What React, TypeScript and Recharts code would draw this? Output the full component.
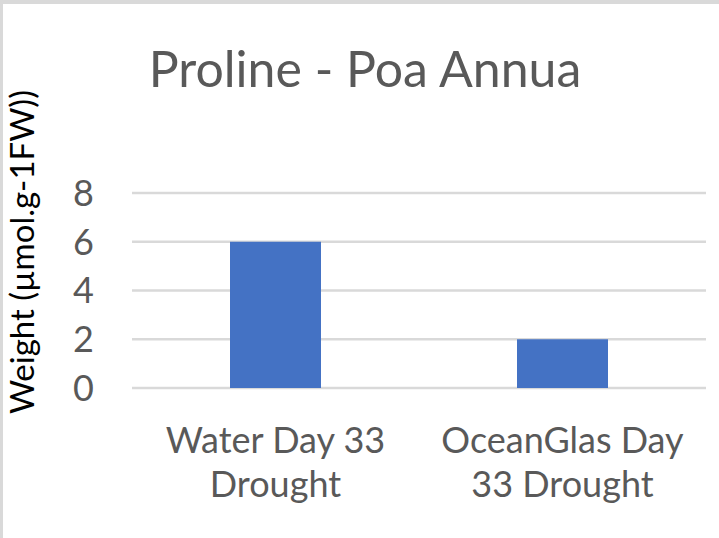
import React from "react";
import {
  BarChart,
  Bar,
  XAxis,
  YAxis,
  CartesianGrid,
  Customized,
} from "recharts";

const categories = ["Water Day 33 Drought", "OceanGlas Day 33 Drought"];
const categoryLines = [
  ["Water Day 33", "Drought"],
  ["OceanGlas Day", "33 Drought"],
];
const proline = [6, 2];
const yTicks = [0, 2, 4, 6, 8];

const data = categories.map((name, i) => ({
  name,
  proline: proline[i],
}));

const FONT = "Lato, 'Noto Sans', sans-serif";
const TEXT = "#595959";

// two-line category labels like Excel does
const CategoryTick = (props: any) => {
  const { x, y, index } = props;
  const lines = categoryLines[index] || [];
  return (
    <g>
      {lines.map((l, i) => (
        <text
          key={i}
          x={x}
          y={y + 65 + i * 44}
          textAnchor="middle"
          fill={TEXT}
          fontSize={36}
          fontFamily={FONT}
        >
          {l}
        </text>
      ))}
    </g>
  );
};

const Titles = () => (
  <g>
    <text
      x={365}
      y={87}
      textAnchor="middle"
      fill={TEXT}
      fontSize={50}
      fontFamily={FONT}
    >
      Proline - Poa Annua
    </text>
    <text
      x={34}
      y={252}
      transform="rotate(-90 34 252)"
      textAnchor="middle"
      fill="#000000"
      fontSize={33}
      fontFamily={FONT}
    >
      Weight (µmol.g-1FW))
    </text>
  </g>
);

export default function App() {
  return (
    <div
      style={{
        position: "absolute",
        left: 0,
        top: 0,
        width: 719,
        height: 538,
        background: "#ffffff",
      }}
    >
      <BarChart
        width={719}
        height={538}
        data={data}
        margin={{ top: 193, right: 13, bottom: 120, left: 0 }}
      >
        <CartesianGrid
          vertical={false}
          stroke="#D9D9D9"
          strokeWidth={2.5}
        />
        <XAxis
          dataKey="name"
          height={30}
          axisLine={false}
          tickLine={false}
          tickSize={0}
          tickMargin={0}
          interval={0}
          tick={<CategoryTick />}
        />
        <YAxis
          width={132}
          domain={[0, 8]}
          ticks={yTicks}
          interval={0}
          axisLine={false}
          tickLine={false}
          tickSize={0}
          tickMargin={38}
          tick={{ fill: TEXT, fontSize: 36, fontFamily: FONT }}
        />
        <Bar
          dataKey="proline"
          fill="#4472C4"
          barSize={91}
          isAnimationActive={false}
        />
        <Customized component={Titles} />
      </BarChart>
      <div
        style={{
          position: "absolute",
          left: 0,
          top: 0,
          width: 719,
          height: 4,
          background: "#D9D9D9",
        }}
      />
      <div
        style={{
          position: "absolute",
          left: 0,
          top: 0,
          width: 3,
          height: 538,
          background: "#D9D9D9",
        }}
      />
    </div>
  );
}
